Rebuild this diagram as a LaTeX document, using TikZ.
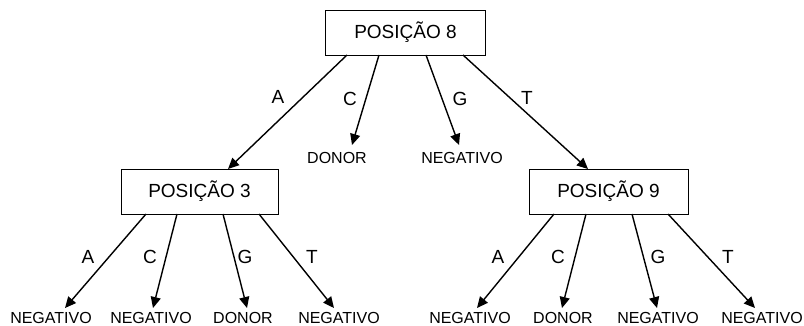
\documentclass[tikz,border=0pt]{standalone}
\usepackage{fontspec}
\setmainfont{Liberation Sans}
\usetikzlibrary{arrows.meta}
\begin{document}
\begin{tikzpicture}[x=1pt,y=-1pt,
  box/.style={draw,line width=0.9pt,minimum width=160pt,minimum height=45pt,inner sep=0pt,font=\fontsize{19}{21}\selectfont},
  leaf/.style={inner sep=0pt,font=\fontsize{16}{18}\selectfont},
  elab/.style={inner sep=0pt,font=\fontsize{19}{21}\selectfont},
  arr/.style={line width=1.4pt,-{Triangle[length=11pt,width=10pt]}}]
\useasboundingbox (0,0) rectangle (804,326);
\node[box] (p8) at (405.5,32.5) {POSIÇÃO 8};
\node[box,minimum width=157pt] (p3) at (199.5,191.5) {POSIÇÃO 3};
\node[box,minimum width=159pt] (p9) at (608.5,191.5) {POSIÇÃO 9};
% top level leaves
\node[leaf] (d8) at (337,158) {DONOR};
\node[leaf] (n8) at (462,158) {NEGATIVO};
% bottom leaves
\node[leaf] (l1) at (51,317.5) {NEGATIVO};
\node[leaf] (l2) at (151,317.5) {NEGATIVO};
\node[leaf] (l3) at (243,317.5) {DONOR};
\node[leaf] (l4) at (339,317.5) {NEGATIVO};
\node[leaf] (l5) at (470,317.5) {NEGATIVO};
\node[leaf] (l6) at (563,317.5) {DONOR};
\node[leaf] (l7) at (658,317.5) {NEGATIVO};
\node[leaf] (l8) at (762,317.5) {NEGATIVO};
% coordinates
\coordinate (s8a) at (347,55);
\coordinate (s8c) at (379,55);
\coordinate (s8g) at (426,55);
\coordinate (s8t) at (463,55);
\coordinate (e8a) at (228,169);
\coordinate (e8c) at (352,145);
\coordinate (e8g) at (459,145);
\coordinate (e8t) at (588,169);
\coordinate (s3a) at (146,214);
\coordinate (s3c) at (177,214);
\coordinate (s3g) at (223,214);
\coordinate (s3t) at (259,214);
\coordinate (e3a) at (65,308);
\coordinate (e3c) at (153,308);
\coordinate (e3g) at (247,308);
\coordinate (e3t) at (334,308);
\coordinate (s9a) at (554,214);
\coordinate (s9c) at (586,214);
\coordinate (s9g) at (632,214);
\coordinate (s9t) at (668,214);
\coordinate (e9a) at (477,308);
\coordinate (e9c) at (562,308);
\coordinate (e9g) at (657,308);
\coordinate (e9t) at (755,308);
% arrows
\draw[arr] (s8a) -- (e8a);
\draw[arr] (s8c) -- (e8c);
\draw[arr] (s8g) -- (e8g);
\draw[arr] (s8t) -- (e8t);
\draw[arr] (s3a) -- (e3a);
\draw[arr] (s3c) -- (e3c);
\draw[arr] (s3g) -- (e3g);
\draw[arr] (s3t) -- (e3t);
\draw[arr] (s9a) -- (e9a);
\draw[arr] (s9c) -- (e9c);
\draw[arr] (s9g) -- (e9g);
\draw[arr] (s9t) -- (e9t);
% edge labels
\node[elab] (la8) at (278,97) {A};
\node[elab] (lc8) at (350,99) {C};
\node[elab] (lg8) at (460,99) {G};
\node[elab] (lt8) at (527,98) {T};
\node[elab] (la3) at (88,257) {A};
\node[elab] (lc3) at (150,257) {C};
\node[elab] (lg3) at (245,257) {G};
\node[elab] (lt3) at (312,257) {T};
\node[elab] (la9) at (498,257) {A};
\node[elab] (lc9) at (558,257) {C};
\node[elab] (lg9) at (658,257) {G};
\node[elab] (lt9) at (728,257) {T};
\end{tikzpicture}
\end{document}
